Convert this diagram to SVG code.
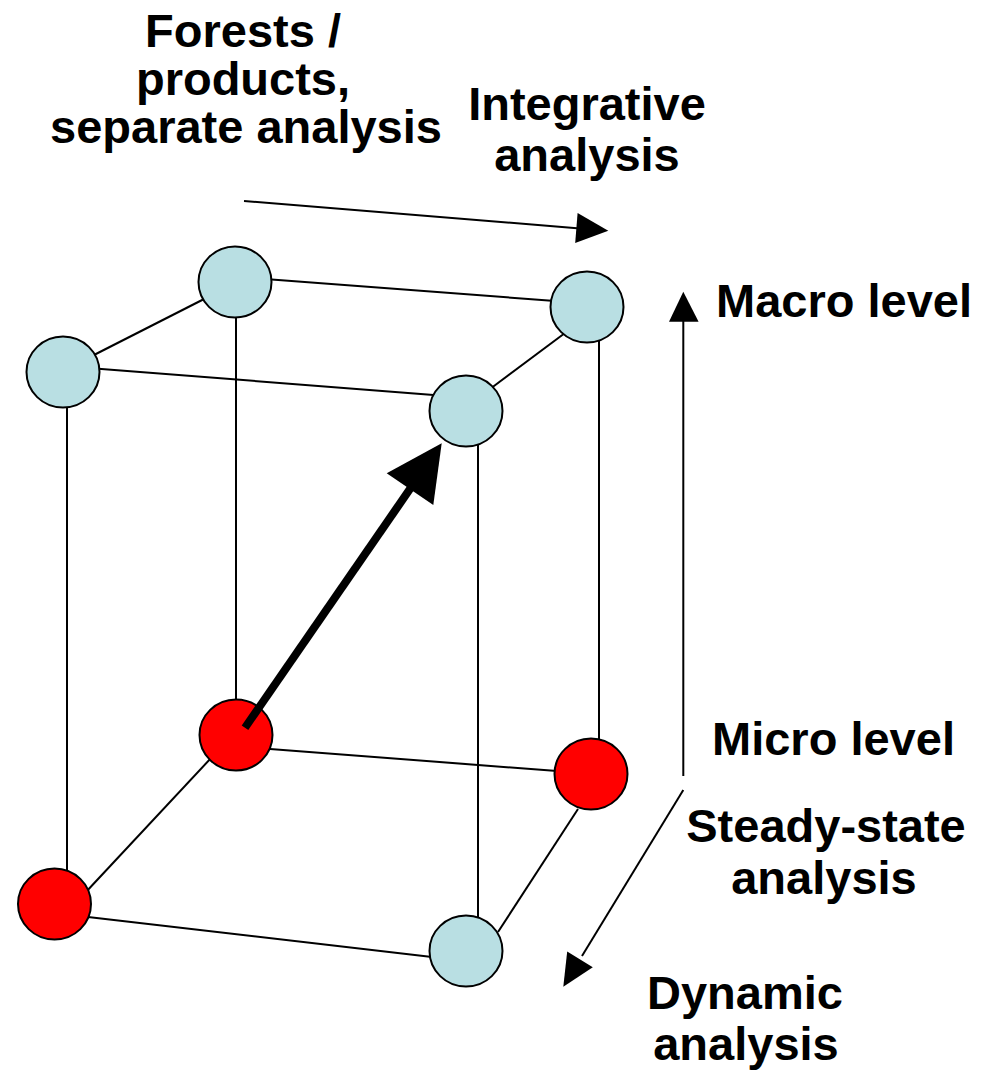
<svg xmlns="http://www.w3.org/2000/svg" width="981" height="1080" viewBox="0 0 981 1080">
  <style>
    .edge { stroke: #000; stroke-width: 2; fill: none; }
    .arr { stroke: #000; stroke-width: 2; fill: none; }
    .blue { fill: #B9DFE3; stroke: #000; stroke-width: 2; }
    .red { fill: #FF0000; stroke: #000; stroke-width: 2; }
    .lbl { font-family: "Liberation Sans", Arial, sans-serif; font-weight: bold; font-size: 47px; fill: #000; }
  </style>
  <rect width="981" height="1080" fill="#fff"/>
  <g id="edges">
    <line class="edge" x1="67" y1="372" x2="67" y2="904"/>
    <line class="edge" x1="236" y1="282" x2="236" y2="735"/>
    <line class="edge" x1="478" y1="411" x2="478" y2="951"/>
    <line class="edge" x1="599" y1="307" x2="599" y2="774"/>
    <line class="edge" x1="95" y1="368.4" x2="440" y2="395.6"/>
    <line class="edge" x1="210" y1="296" x2="90" y2="357"/>
    <line class="edge" x1="265" y1="279" x2="555" y2="301"/>
    <line class="edge" x1="565" y1="333" x2="490" y2="389"/>
    <line class="edge" x1="270" y1="749" x2="557" y2="771"/>
    <line class="edge" x1="88" y1="917" x2="432" y2="957"/>
    <line class="edge" x1="212" y1="757" x2="85" y2="893"/>
    <line class="edge" x1="578" y1="809" x2="498" y2="932"/>
  </g>
  <g id="node-top-back-left"><ellipse class="blue" cx="235" cy="282" rx="36.5" ry="35.5"/></g>
  <g id="node-top-back-right"><ellipse class="blue" cx="587" cy="307" rx="36.5" ry="35.5"/></g>
  <g id="node-top-front-left"><ellipse class="blue" cx="63" cy="372" rx="36.5" ry="35.5"/></g>
  <g id="node-top-front-right"><ellipse class="blue" cx="466" cy="411" rx="36.5" ry="35.5"/></g>
  <g id="node-bottom-back-left"><ellipse class="red" cx="236" cy="735" rx="36.5" ry="35.5"/></g>
  <g id="node-bottom-back-right"><ellipse class="red" cx="591" cy="774" rx="36.5" ry="35.5"/></g>
  <g id="node-bottom-front-left"><ellipse class="red" cx="54.5" cy="904" rx="36.5" ry="35.5"/></g>
  <g id="node-bottom-front-right"><ellipse class="blue" cx="466" cy="951" rx="36.5" ry="35.5"/></g>
  <g id="connectors">
    <line x1="245" y1="727.7" x2="413" y2="484.6" stroke="#000" stroke-width="8"/>
    <polygon points="441.7,443.3 386.7,473.3 433.3,505" fill="#000"/>
    <line class="arr" x1="244" y1="201" x2="580" y2="228.4"/>
    <polygon points="608.3,230.7 575.2,243 577.6,213.1" fill="#000"/>
    <line class="arr" x1="683.3" y1="776" x2="683.3" y2="318"/>
    <polygon points="683.3,291.7 669,321.7 698.6,321.7" fill="#000"/>
    <line class="arr" x1="683.3" y1="790" x2="582" y2="956"/>
    <polygon points="563.3,986.7 567.2,951.6 592.8,967.2" fill="#000"/>
  </g>
  <g id="labels">
    <text class="lbl" text-anchor="middle" x="243" y="47">Forests /</text>
    <text class="lbl" text-anchor="middle" x="243" y="95">products,</text>
    <text class="lbl" text-anchor="middle" x="246" y="143">separate analysis</text>
    <text class="lbl" text-anchor="middle" x="587" y="120">Integrative</text>
    <text class="lbl" text-anchor="middle" x="587" y="171">analysis</text>
    <text class="lbl" x="716" y="317">Macro level</text>
    <text class="lbl" x="712" y="755">Micro level</text>
    <text class="lbl" text-anchor="middle" x="826" y="842">Steady-state</text>
    <text class="lbl" text-anchor="middle" x="824" y="894">analysis</text>
    <text class="lbl" text-anchor="middle" x="745" y="1009">Dynamic</text>
    <text class="lbl" text-anchor="middle" x="746" y="1060">analysis</text>
  </g>
</svg>
